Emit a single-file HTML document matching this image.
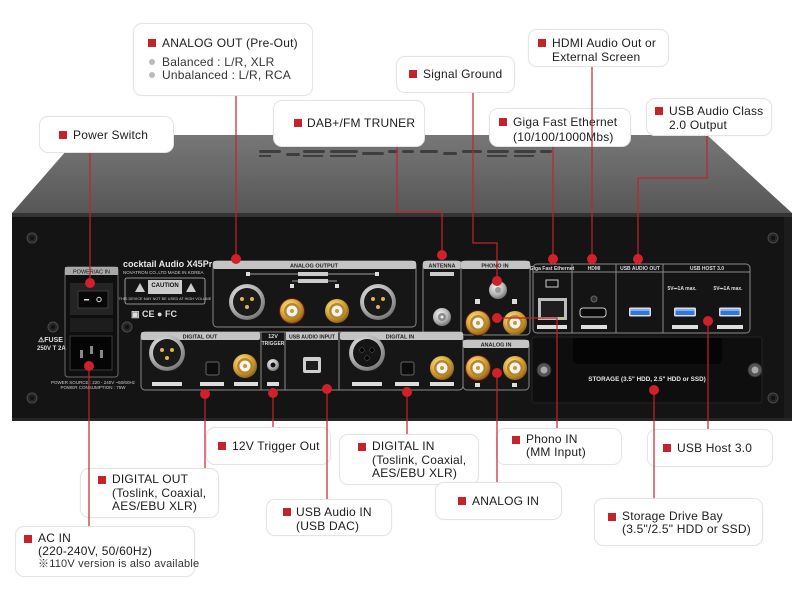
<!DOCTYPE html>
<html><head><meta charset="utf-8">
<style>
html,body{margin:0;padding:0;background:#fff;}
body{width:800px;height:600px;position:relative;overflow:hidden;font-family:"Liberation Sans","Noto Sans CJK KR",sans-serif;}
svg{position:absolute;left:0;top:0;}
#ov{z-index:5;pointer-events:none;}
.b{position:absolute;background:#fff;border:1px solid #e4e4e4;border-radius:9px;box-sizing:border-box;box-shadow:0 0 2px rgba(0,0,0,0.04);}
.sq{position:absolute;width:8px;height:8px;background:#c4232a;}
.t{position:absolute;font-size:12px;line-height:14px;color:#1c1c1c;white-space:nowrap;letter-spacing:0.2px;}
.g{position:absolute;width:6px;height:6px;border-radius:50%;background:#bdbdbd;}
.t2{color:#333;}
</style></head><body>
<svg width="800" height="600" viewBox="0 0 800 600" xmlns="http://www.w3.org/2000/svg" font-family="Liberation Sans, sans-serif">
<defs>
<linearGradient id="top" x1="0" y1="0" x2="0" y2="1"><stop offset="0" stop-color="#777"/><stop offset="1" stop-color="#575757"/></linearGradient>
<radialGradient id="silver" cx="0.4" cy="0.35" r="0.7"><stop offset="0" stop-color="#f2f2f2"/><stop offset="0.6" stop-color="#b5b5b5"/><stop offset="1" stop-color="#6a6a6a"/></radialGradient>
<radialGradient id="gold" cx="0.4" cy="0.35" r="0.7"><stop offset="0" stop-color="#fff0b0"/><stop offset="0.5" stop-color="#e0b040"/><stop offset="1" stop-color="#8a5a10"/></radialGradient>
<g id="rca"><circle r="13" fill="#6a1414"/><circle r="12" fill="url(#gold)"/><circle r="8" fill="#b8862a"/><circle r="5.5" fill="#f3f3f3"/><circle r="2" fill="#c89a38"/></g>
<g id="rcaw"><circle r="12" fill="url(#gold)"/><circle r="8" fill="#b8862a"/><circle r="5.5" fill="#f3f3f3"/><circle r="2" fill="#c89a38"/></g>
<g id="xlr"><circle r="18" fill="url(#silver)"/><circle r="14" fill="#1a1a1a"/><circle cx="-5" cy="-3" r="2" fill="#e2b548"/><circle cx="5" cy="-3" r="2" fill="#e2b548"/><circle cx="0" cy="5" r="2" fill="#e2b548"/></g>
<g id="xlrf"><circle r="18" fill="url(#silver)"/><circle r="14" fill="#151515"/><circle cx="-5" cy="-3" r="2.3" fill="#000" stroke="#555" stroke-width="0.6"/><circle cx="5" cy="-3" r="2.3" fill="#000" stroke="#555" stroke-width="0.6"/><circle cx="0" cy="5" r="2.3" fill="#000" stroke="#555" stroke-width="0.6"/></g>
<g id="scr"><circle r="5" fill="#262626" stroke="#4a4a4a" stroke-width="1"/><circle r="2" fill="#111"/></g>
<g id="usb"><rect x="-11" y="-4.5" width="22" height="9" rx="1.5" fill="#ddd"/><rect x="-9.5" y="-3" width="19" height="6" fill="#2f78d8"/><rect x="-9.5" y="-3" width="19" height="2" fill="#7ab0ff"/></g>
</defs>

<!-- top surface -->
<polygon points="80,135 707,135 792,213 12,213" fill="url(#top)"/>
<g fill="#3e3e3e">
<rect x="259" y="150" width="22" height="3" rx="1.5"/><rect x="286" y="153" width="14" height="3" rx="1.5"/><rect x="303" y="150" width="22" height="3" rx="1.5"/><rect x="330" y="150" width="28" height="3" rx="1.5"/><rect x="362" y="152" width="22" height="3" rx="1.5"/><rect x="388" y="150" width="10" height="3" rx="1.5"/><rect x="402" y="150" width="12" height="3" rx="1.5"/><rect x="420" y="150" width="18" height="3" rx="1.5"/><rect x="443" y="152" width="14" height="3" rx="1.5"/><rect x="462" y="150" width="20" height="3" rx="1.5"/><rect x="487" y="150" width="22" height="3" rx="1.5"/><rect x="514" y="150" width="22" height="3" rx="1.5"/><rect x="540" y="150" width="12" height="3" rx="1.5"/>
<rect x="259" y="155" width="12" height="2"/><rect x="303" y="155" width="20" height="2"/><rect x="330" y="155" width="26" height="2"/><rect x="487" y="155" width="20" height="2"/><rect x="514" y="155" width="20" height="2"/>
</g>
<!-- front -->
<rect x="12" y="213" width="780" height="208" fill="#141414"/>
<rect x="12" y="213" width="780" height="4" fill="#343434"/>
<rect x="12" y="418" width="780" height="3" fill="#262626"/>
<rect x="784" y="217" width="8" height="201" fill="#1c1c1c"/>
<use href="#scr" x="32" y="238"/><use href="#scr" x="32" y="398"/><use href="#scr" x="773" y="238"/><use href="#scr" x="773" y="398"/>

<!-- power module -->
<rect x="65" y="267" width="53" height="110" rx="3" fill="#0f0f0f" stroke="#6a6a6a" stroke-width="1"/>
<rect x="65" y="267" width="53" height="8" fill="#a8a8a8"/>
<text x="91.5" y="273.5" font-size="5.5" text-anchor="middle" fill="#111">POWER/AC IN</text>
<rect x="70" y="283" width="43" height="32" fill="#242424"/>
<rect x="78" y="291" width="30" height="17" fill="#080808" stroke="#3c3c3c"/>
<rect x="84" y="299" width="5" height="1.5" fill="#ddd"/><circle cx="99" cy="299.5" r="2.2" fill="none" stroke="#ddd" stroke-width="1"/>
<rect x="70" y="318" width="43" height="14" fill="#1d1d1d"/>
<rect x="70" y="336" width="42" height="34" fill="#050505" stroke="#3a3a3a"/>
<rect x="80" y="350" width="3" height="8" fill="#888"/><rect x="90" y="346" width="3" height="8" fill="#888"/><rect x="100" y="350" width="3" height="8" fill="#888"/>
<use href="#scr" x="53" y="327"/><use href="#scr" x="127" y="327"/>
<text x="38" y="342" font-size="7" font-weight="bold" fill="#ddd">⚠FUSE</text>
<text x="37" y="350" font-size="6" font-weight="bold" fill="#ddd">250V T 2A</text>
<text x="93" y="384" font-size="4.5" text-anchor="middle" fill="#ccc">POWER SOURCE : 220 - 240V ~50/60Hz</text>
<text x="93" y="389" font-size="4.5" text-anchor="middle" fill="#ccc">POWER CONSUMPTION : 75W</text>

<!-- brand -->
<text x="123" y="267" font-size="9" font-weight="bold" fill="#e8e8e8">cocktail Audio X45Pro</text>
<text x="123" y="274" font-size="4.5" fill="#ccc">NOVATRON CO.,LTD   MADE IN KOREA</text>
<rect x="125" y="278" width="80" height="26" rx="2" fill="none" stroke="#bbb" stroke-width="0.8"/>
<rect x="148" y="280" width="34" height="14" fill="#ccc"/>
<text x="165" y="287" font-size="6" font-weight="bold" text-anchor="middle" fill="#111">CAUTION</text>
<polygon points="135,292 140,283 145,292" fill="#ccc"/><polygon points="186,292 191,283 196,292" fill="#ccc"/>
<text x="165" y="300" font-size="3.8" text-anchor="middle" fill="#ccc">THIS DEVICE MAY NOT BE USED AT HIGH VOLUME</text>
<text x="131" y="317" font-size="9" font-weight="bold" fill="#ddd">▣ CE ● FC</text>

<!-- analog output -->
<rect x="213" y="261" width="203" height="66" rx="4" fill="#161616" stroke="#8a8a8a"/>
<rect x="213" y="261" width="203" height="8" rx="2" fill="#c4c4c4"/>
<text x="314" y="267.5" font-size="5.5" font-weight="bold" text-anchor="middle" fill="#222">ANALOG OUTPUT</text>
<line x1="249" y1="274" x2="377" y2="274" stroke="#ccc" stroke-width="0.8"/>
<rect x="246" y="272" width="4" height="4" fill="#ddd"/><rect x="375" y="272" width="4" height="4" fill="#ddd"/>
<rect x="298" y="272" width="30" height="4" fill="#ccc"/><rect x="298" y="279" width="30" height="4" fill="#ccc"/>
<line x1="292" y1="281" x2="337" y2="281" stroke="#ccc" stroke-width="0.8"/>
<rect x="290" y="284" width="4" height="4" fill="#ddd"/><rect x="335" y="284" width="4" height="4" fill="#ddd"/>
<use href="#xlr" x="247" y="302"/><use href="#xlr" x="378" y="302"/>
<use href="#rca" x="292" y="311"/><use href="#rcaw" x="337" y="311"/>

<!-- antenna / phono -->
<rect x="423" y="261" width="38" height="74" rx="4" fill="#161616" stroke="#8a8a8a"/>
<rect x="423" y="261" width="38" height="8" rx="2" fill="#c4c4c4"/>
<text x="442" y="267.5" font-size="5.5" font-weight="bold" text-anchor="middle" fill="#222">ANTENNA</text>
<rect x="430" y="272" width="24" height="4" fill="#ccc"/>
<circle cx="442" cy="317" r="9" fill="url(#silver)"/><circle cx="442" cy="317" r="4" fill="#888"/><circle cx="442" cy="317" r="1.5" fill="#eee"/>
<rect x="461" y="261" width="69" height="74" rx="4" fill="#161616" stroke="#8a8a8a"/>
<rect x="461" y="261" width="69" height="8" rx="2" fill="#c4c4c4"/>
<text x="495" y="267.5" font-size="5.5" font-weight="bold" text-anchor="middle" fill="#222">PHONO IN</text>
<circle cx="498" cy="290" r="9" fill="url(#silver)"/><circle cx="498" cy="290" r="3" fill="#999"/>
<rect x="475" y="299" width="5" height="5" fill="#ddd"/><rect x="512" y="299" width="5" height="5" fill="#ddd"/>
<use href="#rca" x="478" y="323"/><use href="#rcaw" x="515" y="323"/>

<!-- lower row -->
<rect x="141" y="332" width="322" height="58" rx="4" fill="#161616" stroke="#8a8a8a"/>
<rect x="141" y="332" width="119" height="8" rx="2" fill="#c4c4c4"/>
<text x="200" y="338.5" font-size="5.5" font-weight="bold" text-anchor="middle" fill="#222">DIGITAL OUT</text>
<line x1="261" y1="332" x2="261" y2="390" stroke="#8a8a8a"/>
<text x="273" y="338" font-size="5.5" font-weight="bold" text-anchor="middle" fill="#ddd">12V</text>
<text x="273" y="345" font-size="5" font-weight="bold" text-anchor="middle" fill="#ddd">TRIGGER</text>
<line x1="285" y1="332" x2="285" y2="390" stroke="#8a8a8a"/>
<rect x="286" y="332" width="52" height="8" fill="#c4c4c4"/>
<text x="312" y="338.5" font-size="5.2" font-weight="bold" text-anchor="middle" fill="#222">USB AUDIO INPUT</text>
<line x1="339" y1="332" x2="339" y2="390" stroke="#8a8a8a"/>
<rect x="340" y="332" width="123" height="8" rx="2" fill="#c4c4c4"/>
<text x="400" y="338.5" font-size="5.5" font-weight="bold" text-anchor="middle" fill="#222">DIGITAL IN</text>
<rect x="463" y="340" width="66" height="50" rx="4" fill="#161616" stroke="#8a8a8a"/>
<rect x="463" y="340" width="66" height="8" rx="2" fill="#c4c4c4"/>
<text x="496" y="346.5" font-size="5.5" font-weight="bold" text-anchor="middle" fill="#222">ANALOG IN</text>
<use href="#xlr" x="167" y="353"/>
<rect x="206" y="362" width="13" height="13" rx="2" fill="#0c0c0c" stroke="#666"/>
<use href="#rcaw" x="245" y="366"/>
<circle cx="273" cy="365" r="6" fill="url(#silver)"/><circle cx="273" cy="365" r="2.5" fill="#111"/>
<rect x="303" y="357" width="18" height="16" rx="2" fill="#cfcfcf"/><rect x="306" y="361" width="12" height="9" fill="#1c1c1c"/>
<use href="#xlrf" x="367" y="353"/>
<rect x="401" y="362" width="13" height="13" rx="2" fill="#0c0c0c" stroke="#666"/>
<use href="#rcaw" x="442" y="368"/>
<use href="#rca" x="478" y="368"/><use href="#rcaw" x="515" y="368"/>
<g fill="#ddd"><rect x="152" y="382" width="30" height="4"/><rect x="200" y="382" width="24" height="4"/><rect x="234" y="382" width="24" height="4"/><rect x="267" y="382" width="12" height="4"/><rect x="352" y="382" width="30" height="4"/><rect x="395" y="382" width="24" height="4"/><rect x="430" y="382" width="24" height="4"/><rect x="475" y="383" width="5" height="4"/><rect x="512" y="383" width="5" height="4"/></g>

<!-- right group -->
<rect x="533" y="264" width="217" height="69" rx="4" fill="#141414" stroke="#8a8a8a"/>
<line x1="533" y1="272" x2="750" y2="272" stroke="#8a8a8a"/>
<line x1="572" y1="264" x2="572" y2="333" stroke="#8a8a8a"/>
<line x1="616" y1="264" x2="616" y2="333" stroke="#8a8a8a"/>
<line x1="663" y1="264" x2="663" y2="333" stroke="#8a8a8a"/>
<g font-size="5" font-weight="bold" fill="#ddd" text-anchor="middle">
<text x="552" y="270">Giga Fast Ethernet</text><text x="594" y="270">HDMI</text><text x="640" y="270">USB AUDIO OUT</text><text x="707" y="270">USB HOST 3.0</text>
<text x="682" y="290">5V⎓1A max.</text><text x="728" y="290">5V⎓1A max.</text>
</g>
<rect x="546" y="280" width="12" height="7" fill="none" stroke="#ccc" stroke-width="1"/>
<rect x="538" y="298" width="29" height="22" fill="#bdbdbd"/><rect x="541" y="301" width="23" height="16" fill="#1e1e1e"/>
<circle cx="543" cy="318" r="1" fill="#5c5"/><circle cx="562" cy="318" r="1" fill="#cc5"/>
<circle cx="594" cy="299" r="3" fill="#333" stroke="#666"/>
<rect x="580" y="308" width="26" height="9" rx="3" fill="#0a0a0a" stroke="#ccc"/>
<use href="#usb" x="640" y="312"/><use href="#usb" x="685" y="312"/><use href="#usb" x="730" y="312"/>
<g fill="#ddd"><rect x="537" y="325" width="30" height="4"/><rect x="581" y="325" width="26" height="4"/><rect x="672" y="325" width="26" height="4"/><rect x="717" y="325" width="26" height="4"/></g>
<!-- storage -->
<rect x="532" y="337" width="230" height="66" rx="3" fill="#0e0e0e" stroke="#242424"/>
<path d="M573 338 H722 V358 Q722 364 716 364 H579 Q573 364 573 358 Z" fill="#050505"/>
<text x="647" y="381" font-size="6.3" font-weight="bold" text-anchor="middle" fill="#e8e8e8">STORAGE (3.5" HDD, 2.5" HDD or SSD)</text>
<circle cx="544" cy="370" r="7" fill="#555" stroke="#2a2a2a"/><circle cx="544" cy="370" r="3.5" fill="#aaa"/>
<circle cx="755" cy="370" r="7" fill="#555" stroke="#2a2a2a"/><circle cx="755" cy="370" r="3.5" fill="#aaa"/>
</svg>

<!-- ANALOG OUT -->
<div class="b" style="left:133px;top:23px;width:180px;height:73px"></div>
<div class="sq" style="left:148px;top:39px"></div>
<div class="t" style="left:162px;top:36px">ANALOG OUT (Pre-Out)</div>
<div class="g" style="left:149px;top:59px"></div>
<div class="t t2" style="left:162px;top:55px">Balanced : L/R, XLR</div>
<div class="g" style="left:149px;top:72px"></div>
<div class="t t2" style="left:162px;top:68px">Unbalanced : L/R, RCA</div>

<!-- Power Switch -->
<div class="b" style="left:39px;top:116px;width:135px;height:37px"></div>
<div class="sq" style="left:59px;top:131px"></div>
<div class="t" style="left:73px;top:128px">Power Switch</div>

<!-- DAB -->
<div class="b" style="left:273px;top:100px;width:152px;height:47px"></div>
<div class="sq" style="left:294px;top:119px"></div>
<div class="t" style="left:307px;top:116px">DAB+/FM TRUNER</div>

<!-- Signal Ground -->
<div class="b" style="left:396px;top:56px;width:119px;height:37px"></div>
<div class="sq" style="left:409px;top:70px"></div>
<div class="t" style="left:423px;top:67px">Signal Ground</div>

<!-- HDMI -->
<div class="b" style="left:528px;top:29px;width:141px;height:38px"></div>
<div class="sq" style="left:538px;top:39px"></div>
<div class="t" style="left:552px;top:36px">HDMI Audio Out or<br>External Screen</div>

<!-- Giga -->
<div class="b" style="left:489px;top:108px;width:142px;height:39px"></div>
<div class="sq" style="left:499px;top:118px"></div>
<div class="t" style="left:513px;top:115px;line-height:15px">Giga Fast Ethernet<br>(10/100/1000Mbs)</div>

<!-- USB Audio Class -->
<div class="b" style="left:646px;top:98px;width:126px;height:38px"></div>
<div class="sq" style="left:655px;top:107px"></div>
<div class="t" style="left:669px;top:104px">USB Audio Class<br>2.0 Output</div>

<!-- 12V -->
<div class="b" style="left:206px;top:427px;width:125px;height:38px"></div>
<div class="sq" style="left:218px;top:442px"></div>
<div class="t" style="left:232px;top:439px">12V Trigger Out</div>

<!-- DIGITAL OUT -->
<div class="b" style="left:80px;top:468px;width:139px;height:50px"></div>
<div class="sq" style="left:98px;top:476px"></div>
<div class="t" style="left:112px;top:473px;line-height:13.5px">DIGITAL OUT<br>(Toslink, Coaxial,<br>AES/EBU XLR)</div>

<!-- AC IN -->
<div class="b" style="left:15px;top:526px;width:180px;height:51px"></div>
<div class="sq" style="left:24px;top:535px"></div>
<div class="t" style="left:38px;top:532px;line-height:13px">AC IN<br>(220-240V, 50/60Hz)</div>
<div class="t" style="left:38px;top:558px;font-size:11px;line-height:13px;color:#333">※110V version is also available</div>

<!-- USB Audio IN -->
<div class="b" style="left:266px;top:499px;width:126px;height:37px"></div>
<div class="sq" style="left:283px;top:508px"></div>
<div class="t" style="left:296px;top:505px">USB Audio IN<br>(USB DAC)</div>

<!-- DIGITAL IN -->
<div class="b" style="left:339px;top:434px;width:140px;height:51px"></div>
<div class="sq" style="left:358px;top:443px"></div>
<div class="t" style="left:372px;top:440px;line-height:13.5px">DIGITAL IN<br>(Toslink, Coaxial,<br>AES/EBU XLR)</div>

<!-- ANALOG IN -->
<div class="b" style="left:435px;top:482px;width:127px;height:38px"></div>
<div class="sq" style="left:458px;top:497px"></div>
<div class="t" style="left:472px;top:494px">ANALOG IN</div>

<!-- Phono IN -->
<div class="b" style="left:496px;top:428px;width:126px;height:37px"></div>
<div class="sq" style="left:512px;top:436px"></div>
<div class="t" style="left:526px;top:433px;line-height:13px">Phono IN<br>(MM Input)</div>

<!-- USB Host -->
<div class="b" style="left:647px;top:429px;width:126px;height:38px"></div>
<div class="sq" style="left:663px;top:444px"></div>
<div class="t" style="left:677px;top:441px">USB Host 3.0</div>

<!-- Storage -->
<div class="b" style="left:594px;top:498px;width:169px;height:48px"></div>
<div class="sq" style="left:608px;top:513px"></div>
<div class="t" style="left:622px;top:510px;line-height:13px">Storage Drive Bay<br>(3.5"/2.5" HDD or SSD)</div>

<!-- connectors overlay -->
<svg id="ov" width="800" height="600" viewBox="0 0 800 600" xmlns="http://www.w3.org/2000/svg">
<g stroke="#c4232a" stroke-width="1.2" fill="none">
<polyline points="236,96 236,259"/>
<polyline points="90,153 90,283"/>
<polyline points="397,147 397,212 442,212 442,255"/>
<polyline points="473,93 473,243 497,243 497,281"/>
<polyline points="592,67 592,259"/>
<polyline points="553,147 553,259"/>
<polyline points="707,136 707,178 638,178 638,259"/>
<polyline points="89,366 89,526"/>
<polyline points="273,393 273,427"/>
<polyline points="205,394 205,468"/>
<polyline points="327,389 327,499"/>
<polyline points="407,392 407,434"/>
<polyline points="497,373 497,482"/>
<polyline points="497,318 557,318 557,428"/>
<polyline points="708,321 708,429"/>
<polyline points="654,390 654,498"/>
</g>
<g fill="#d0202a">
<circle cx="236" cy="259" r="5"/><circle cx="90" cy="283" r="5"/><circle cx="442" cy="255" r="5"/><circle cx="497" cy="281" r="5"/>
<circle cx="592" cy="259" r="5"/><circle cx="553" cy="259" r="5"/><circle cx="638" cy="259" r="5"/><circle cx="89" cy="366" r="5"/>
<circle cx="273" cy="393" r="5"/><circle cx="205" cy="394" r="5"/><circle cx="327" cy="389" r="5"/><circle cx="407" cy="392" r="5"/>
<circle cx="497" cy="373" r="5"/><circle cx="497" cy="318" r="5"/><circle cx="708" cy="321" r="5"/><circle cx="654" cy="390" r="5"/>
</g>
</svg>
</body></html>
